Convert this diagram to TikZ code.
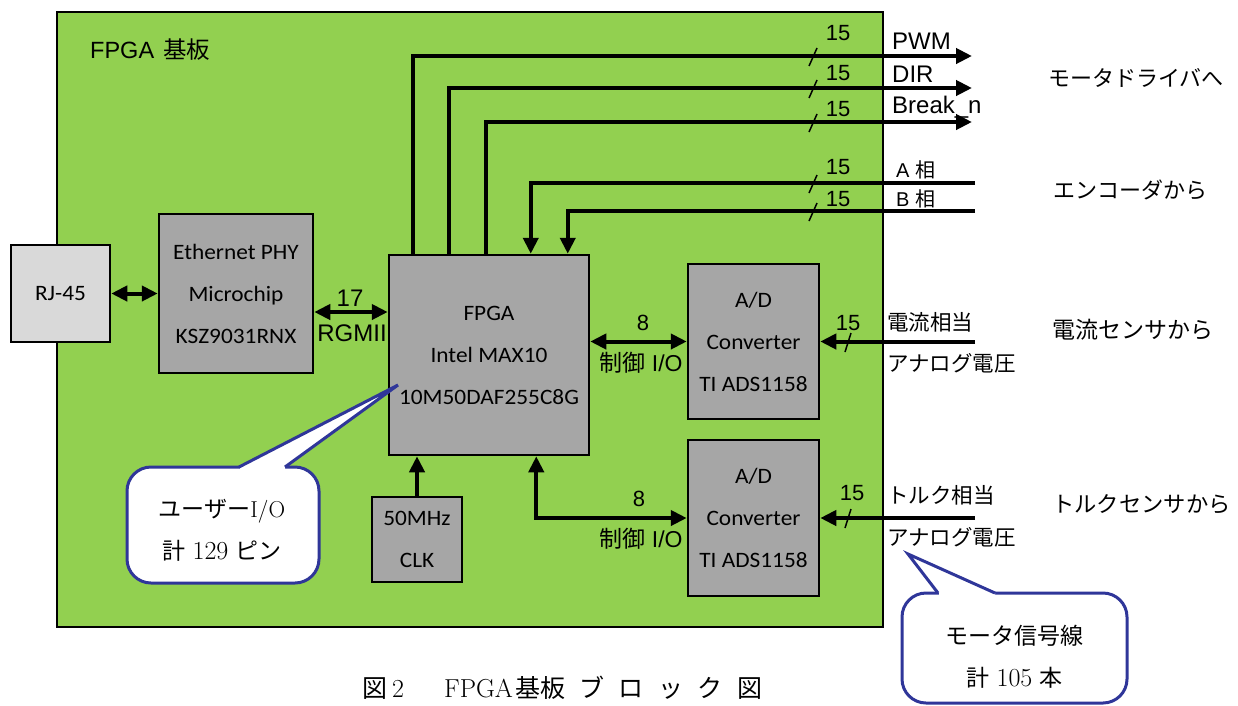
\documentclass[tikz,border=0pt]{standalone}
\usepackage{fontspec}
\newfontfamily\arfont{Liberation Sans}
\newfontfamily\calfont[FakeStretch=1.06]{Carlito}
\newfontfamily\jpfont{Noto Sans CJK JP}
\usetikzlibrary{arrows.meta}
\definecolor{board}{HTML}{92D050}
\definecolor{chip}{HTML}{A6A6A6}
\definecolor{rjfill}{HTML}{D9D9D9}
\definecolor{callblue}{HTML}{2F3699}
\newcommand{\fsz}[1]{\fontsize{#1}{1.2\dimexpr #1pt\relax}\selectfont}
\begin{document}
\begin{tikzpicture}[x=1pt,y=-1pt,
  chipbox/.style={draw, line width=2.5pt, fill=chip, inner sep=0pt, align=center, font=\calfont\fontsize{22}{42}\selectfont},
  sig/.style={line width=4pt, -{Triangle[length=16pt,width=15pt]}},
  dbl/.style={line width=4pt, {Triangle[length=16pt,width=15pt]}-{Triangle[length=16pt,width=15pt]}},
  slash/.style={line width=1.5pt},
  num/.style={font=\arfont\fontsize{22}{26}\selectfont, inner sep=0pt},
  sname/.style={font=\arfont\fontsize{24}{28}\selectfont, inner sep=0pt, anchor=west},
  jlab/.style={font=\arfont\fontsize{20}{24}\selectfont, inner sep=0pt, anchor=west},
  jpl/.style={font=\jpfont\fontsize{21.5}{24}\selectfont, inner sep=0pt, anchor=west},
  src/.style={inner sep=0pt, anchor=west},
  callbox/.style={draw=callblue, line width=3pt, fill=white, rounded corners=24pt, inner sep=0pt},
  calltext/.style={align=center, inner sep=0pt, font=\rmfamily\fontsize{23}{42}\selectfont}
]
\useasboundingbox (0,0) rectangle (1238,705);

% board
\node[draw, line width=2.5pt, fill=board, minimum width=826pt, minimum height=615pt, inner sep=0pt] (board) at (470,319.5) {};
\node[anchor=west, inner sep=0pt, font=\arfont\fontsize{23.5}{28}\selectfont] (title) at (90,50) {FPGA\hspace{9pt}{\jpfont 基板}};

% blocks
\node[chipbox, fill=rjfill, minimum width=99pt, minimum height=97pt] (rj) at (60.5,293.5) {RJ-45};
\node[chipbox, minimum width=154pt, minimum height=159pt] (phy) at (236,293.5) {Ethernet PHY\\Microchip\\KSZ9031RNX};
\node[chipbox, minimum width=200pt, minimum height=200pt] (fpga) at (489,355) {FPGA\\Intel MAX10\\10M50DAF255C8G};
\node[chipbox, minimum width=131pt, minimum height=155pt] (adc1) at (753.5,341.5) {A/D\\Converter\\TI ADS1158};
\node[chipbox, minimum width=131pt, minimum height=156pt] (adc2) at (753.5,518) {A/D\\Converter\\TI ADS1158};
\node[chipbox, minimum width=90pt, minimum height=85pt] (clk) at (417,539.5) {50MHz\\CLK};

% end points
\coordinate (pwm) at (972,56);
\coordinate (dir) at (972,88);
\coordinate (brk) at (972,122);
\coordinate (pha) at (975,183);
\coordinate (phb) at (975,211);
\coordinate (cur) at (975,341.5);
\coordinate (trq) at (975,518);

% connectors
\draw[dbl] (rj.east) -- (phy.west);
\draw[dbl] ([yshift=-18.5pt]phy.east) -- ([yshift=-18.5pt]phy.east -| fpga.west);
\draw[sig] ([xshift=25pt]fpga.north west) |- (pwm);
\draw[sig] ([xshift=61pt]fpga.north west) |- (dir);
\draw[sig] ([xshift=98pt]fpga.north west) |- (brk);
\draw[sig] (pha) -| ([xshift=143pt]fpga.north west);
\draw[sig] (phb) -| ([xshift=180pt]fpga.north west);
\draw[dbl] (fpga.east |- adc1.west) -- (adc1.west);
\draw[dbl] ([xshift=148.5pt]fpga.south west) |- (adc2.west);
\draw[sig] (clk.north) -- (clk.north |- fpga.south);
\draw[sig] (cur) -- (adc1.east);
\draw[sig] (trq) -- (adc2.east);

% bus slashes
\foreach \yy in {56,88,122,183,211} {\draw[slash] (809,\yy+10) -- (817,\yy-8);}
\draw[slash] (845,352) -- (851,333);
\draw[slash] (845,528) -- (851,509);

% widths
\node[num] (n1) at (838,33) {15};
\node[num] (n2) at (838,73) {15};
\node[num] (n3) at (838,109) {15};
\node[num] (n4) at (838,167) {15};
\node[num] (n5) at (838,199) {15};
\node[num] (n6) at (848,323) {15};
\node[num] (n7) at (852,493) {15};
\node[num] (n8) at (643,323) {8};
\node[num] (n9) at (639,499) {8};
\node[num, font=\arfont\fontsize{24}{28}\selectfont] (n10) at (350,298) {17};
\node[num, font=\arfont\fontsize{24}{28}\selectfont] (rgmii) at (352,333) {RGMII};
\node[num, font=\arfont\fontsize{23}{26}\selectfont] (ctl1) at (641,363) {{\jpfont 制御} I/O};
\node[num, font=\arfont\fontsize{23}{26}\selectfont] (ctl2) at (641,539) {{\jpfont 制御} I/O};

% signal names
\node[sname] (lpwm) at (892,41) {PWM};
\node[sname] (ldir) at (892,74) {DIR};
\node[sname] (lbrk) at (892,107) {Break\_n};
\node[jlab] (la) at (896,170) {A {\jpfont 相}};
\node[jlab] (lb) at (896,199) {B {\jpfont 相}};
\node[jpl] (lc1) at (887,322) {電流相当};
\node[jpl] (lc2) at (887,363) {アナログ電圧};
\node[jpl] (lt1) at (887,495) {トルク相当};
\node[jpl] (lt2) at (887,537) {アナログ電圧};

% destinations
\node[src, font=\jpfont\fsz{22}] (d1) at (1048,78) {モータドライバへ};
\node[src, font=\jpfont\fsz{22}] (d2) at (1053,190) {エンコーダから};
\node[src, font=\jpfont\fsz{23}] (d3) at (1052,330) {電流センサから};
\node[src, font=\jpfont\fsz{22.3}] (d4) at (1052,504) {トルクセンサから};

% callout 1
\node[callbox, minimum width=192pt, minimum height=116pt] (cb1) at (223,525) {};
\fill[white] (240,471) -- (240,467) -- (398,385) -- (285,467) -- (285,471) -- cycle;
\draw[callblue, line width=3pt, line join=miter] (239,467) -- (398,385) -- (285,467);
\node[calltext] (cb1t) at (222,530) {{\jpfont ユーザー}I/O\\{\jpfont 計} {\fsz{26}129} {\jpfont ピン}};

% callout 2
\node[callbox, minimum width=225pt, minimum height=110pt] (cb2) at (1014.5,648) {};
\fill[white] (939,597) -- (939,593) -- (908,554) -- (995,593) -- (995,597) -- cycle;
\draw[callblue, line width=3pt, line join=miter] (938,593) -- (908,554) -- (995,593);
\node[calltext] (cb2t) at (1014.5,657) {{\jpfont モータ信号線}\\{\jpfont 計} {\fsz{26}105} {\jpfont 本}};

% caption
\node[anchor=west, inner sep=0pt, font=\rmfamily\fontsize{26}{30}\selectfont] (cap) at (362,688) {{\jpfont\fsz{25}図}\hspace{5pt}2\hspace{40pt}FPGA\hspace{2pt}{\jpfont\fsz{25}基板}\hspace{14pt}{\jpfont\fsz{25}ブ\hspace{14.5pt}ロ\hspace{14.5pt}ッ\hspace{14.5pt}ク\hspace{14.5pt}図}};
\end{tikzpicture}
\end{document}
